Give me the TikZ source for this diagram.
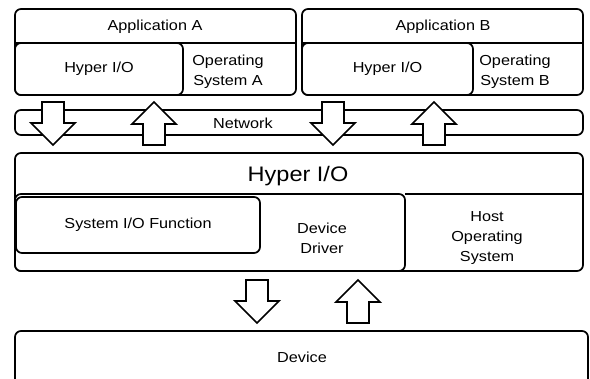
\documentclass[tikz,border=0pt]{standalone}
\usepackage{fontspec}
\setmainfont[FakeStretch=1.12]{Liberation Sans}
\newcommand{\blkdown}[2]{\draw[barrow] (#1-11,#2) -- (#1+11,#2) -- (#1+11,#2+21) -- (#1+22,#2+21) -- (#1,#2+43) -- (#1-22,#2+21) -- (#1-11,#2+21) -- cycle;}
\newcommand{\blkup}[2]{\draw[barrow] (#1-11,#2+43) -- (#1+11,#2+43) -- (#1+11,#2+22) -- (#1+22,#2+22) -- (#1,#2) -- (#1-22,#2+22) -- (#1-11,#2+22) -- cycle;}
\tikzset{
  box/.style={draw, line width=1.7pt, rounded corners=6pt, fill=white, inner sep=0pt, outer sep=0pt},
  lbl/.style={font=\fontsize{14.5}{20}\selectfont, align=center, inner sep=0pt},
  biglbl/.style={font=\fontsize{21}{24}\selectfont, inner sep=0pt},
  barrow/.style={draw, line width=1.7pt, fill=white, line join=miter},
  sep/.style={line width=1.7pt}
}
\begin{document}
\begin{tikzpicture}[x=1pt,y=-1pt]
\useasboundingbox (0,0) rectangle (590,379);
\clip (0,0) rectangle (590,379);
\fill[white] (0,0) rectangle (590,379);
% Application A
\node[box, minimum width=281pt, minimum height=86pt] (appA) at (155.5,52) {};
\node[box, minimum width=168pt, minimum height=52pt, lbl] (hioA) at (99,69) {Hyper I/O};
\draw[sep] (appA.west |- hioA.north) -- (appA.east |- hioA.north);
\node[lbl] (appAt) at (155,27) {Application A};
\node[lbl] (osA) at (228,72) {Operating\\System A};
% Application B
\node[box, minimum width=281pt, minimum height=86pt] (appB) at (442.5,52) {};
\node[box, minimum width=171pt, minimum height=52pt, lbl] (hioB) at (387.5,69) {Hyper I/O};
\draw[sep] (appB.west |- hioB.north) -- (appB.east |- hioB.north);
\node[lbl] (appBt) at (443,27) {Application B};
\node[lbl] (osB) at (515,72) {Operating\\System B};
% Network
\node[box, minimum width=568pt, minimum height=25pt] (net) at (299,122.5) {};
\node[lbl] (nett) at (243,123) {Network};
% Hyper I/O host
\node[box, minimum width=568pt, minimum height=118pt] (hyp) at (299,212) {};
\node[box, minimum width=390pt, minimum height=77pt] (dd) at (210,232.5) {};
\draw[sep] (dd.north east) -- (hyp.east |- dd.north);
\node[biglbl] (hypt) at (298,176) {Hyper I/O};
\node[box, minimum width=244pt, minimum height=56pt, lbl] (sysio) at (138,225) {System I/O Function};
\node[lbl] (ddt) at (322,238) {Device\\Driver};
\node[lbl] (host) at (487,238) {Host\\Operating\\System};
% Device
\node[box, minimum width=573pt, minimum height=64pt] (dev) at (301.5,363) {};
\node[lbl] (devt) at (302,357) {Device};
% block arrows
\blkdown{53}{102}
\blkup{154}{102}
\blkdown{333}{102}
\blkup{434}{102}
\blkdown{257}{280}
\blkup{358}{280}
\end{tikzpicture}
\end{document}
